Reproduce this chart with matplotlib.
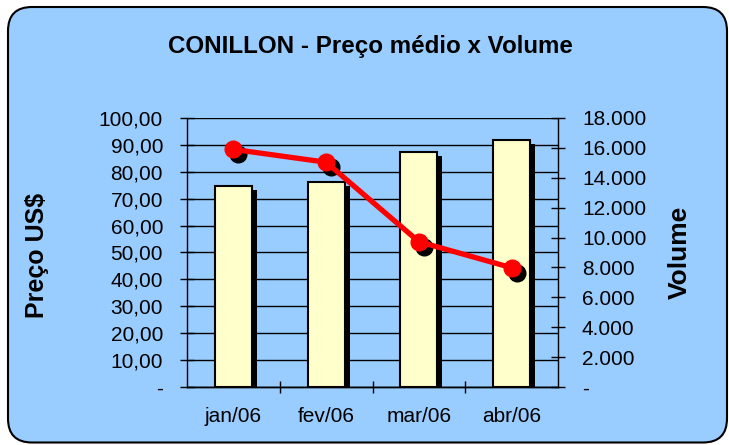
import matplotlib
matplotlib.use("Agg")
import matplotlib.pyplot as plt
import matplotlib.transforms as mtransforms
from matplotlib.patches import FancyBboxPatch
from matplotlib.ticker import FixedLocator, FuncFormatter

categories = ["jan/06", "fev/06", "mar/06", "abr/06"]
preco = [74.8, 76.3, 87.4, 91.7]
volume = [15900, 15040, 9720, 7980]

BG = "#99CCFF"
BAR = "#FFFFCC"
plt.rcParams['font.family'] = ['Liberation Sans', 'DejaVu Sans']

W, H = 729, 445
fig = plt.figure(figsize=(W / 100, H / 100), dpi=100)
fig.patch.set_facecolor("white")

border = FancyBboxPatch((8, 2.5), 719, 435.5,
                        boxstyle="round,pad=0,rounding_size=24",
                        transform=mtransforms.IdentityTransform(),
                        facecolor=BG, edgecolor="black", linewidth=1.5, zorder=-10)
fig.patches.append(border)

ax = fig.add_axes([187 / W, 1 - 387 / H, (558 - 187) / W, (387 - 118) / H])
ax.set_facecolor("none")
ax2 = ax.twinx()
ax2.set_facecolor("none")

x = list(range(len(categories)))
bw = 0.40
shadow = mtransforms.offset_copy(ax.transData, fig=fig, x=5, y=-4, units='dots')
ax.bar(x, preco, width=bw, color="black", edgecolor="black", linewidth=0,
       transform=shadow, zorder=2)
ax.bar(x, preco, width=bw, color=BAR, edgecolor="black", linewidth=1.5, zorder=3)

ax.set_xlim(-0.5, len(categories) - 0.5)
ax.set_ylim(0, 100)
ax.set_yticks([i * 10 for i in range(11)])
ax.yaxis.set_major_formatter(FuncFormatter(lambda v, p: "-" if v == 0 else f"{v:.2f}".replace(".", ",")))
ax.grid(axis="y", color="black", linewidth=1, zorder=1)
ax.set_axisbelow(True)
ax.set_xticks(x)
ax.set_xticklabels(categories)
ax.xaxis.set_minor_locator(FixedLocator([0.5, 1.5, 2.5]))
ax.tick_params(axis="x", which="major", length=0, pad=14.5, labelsize=15)
ax.tick_params(axis="x", which="minor", direction="inout", length=9, width=1)
ax.tick_params(axis="y", direction="inout", length=9.5, width=1, pad=12.5, labelsize=15)

ax2.set_ylim(0, 18000)
ax2.set_yticks([i * 2000 for i in range(10)])
ax2.yaxis.set_major_formatter(FuncFormatter(lambda v, p: "-" if v == 0 else f"{int(v):,}".replace(",", ".")))
ax2.tick_params(axis="y", direction="inout", length=9.5, width=1, pad=12.5, labelsize=15)

mshadow = mtransforms.offset_copy(ax2.transData, fig=fig, x=5, y=-5, units='dots')
ax2.plot(x, volume, linestyle="none", marker="o", markersize=12, color="black",
         transform=mshadow, zorder=4)
ax2.plot(x, volume, color="#FF0000", linewidth=3.8, marker="o", markersize=12,
         markerfacecolor="#FF0000", markeredgecolor="#FF0000", zorder=5)

for a in (ax, ax2):
    a.spines["top"].set_visible(False)
    for s in a.spines.values():
        s.set_linewidth(1)
        s.set_color("black")

ax.spines["right"].set_visible(False)
ax2.spines["left"].set_visible(False)

fig.text(370 / W, 1 - 47 / H, "CONILLON - Preço médio x Volume", ha="center", va="center",
         fontsize=17.4, fontweight="bold")
fig.text(37 / W, 1 - 255 / H, "Preço US$", ha="center", va="center", rotation=90,
         fontsize=18, fontweight="bold")
fig.text(680 / W, 1 - 252 / H, "Volume", ha="center", va="center", rotation=90,
         fontsize=19, fontweight="bold")

fig.savefig("out.png", dpi=100, facecolor=fig.get_facecolor())
